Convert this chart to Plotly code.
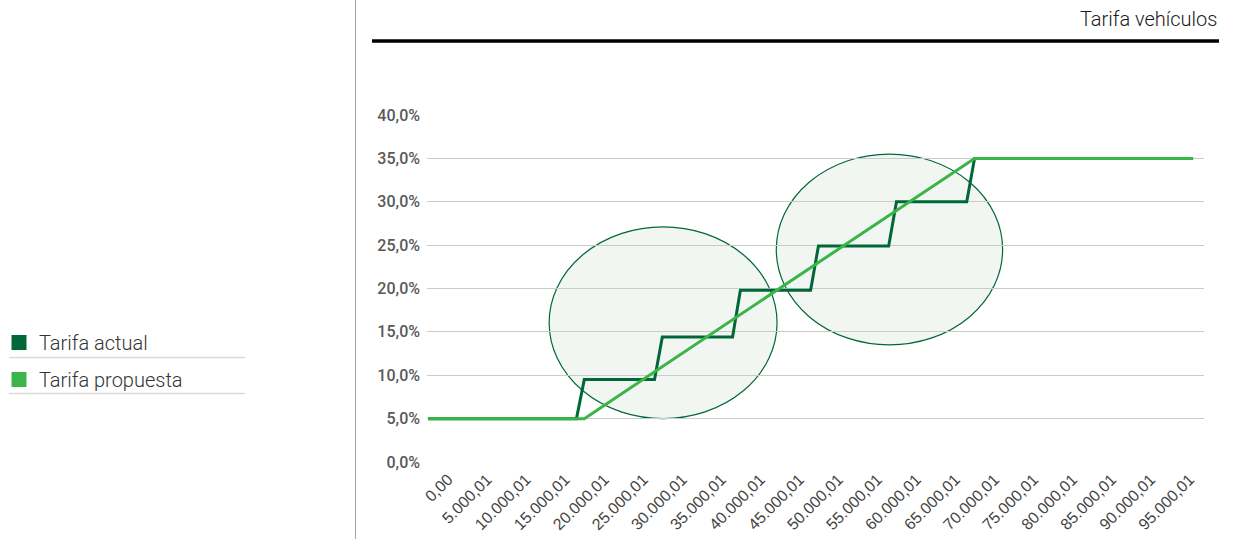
import plotly.graph_objects as go

# ---------------- data ----------------
ingreso_actual = [0, 19000, 20000, 29000, 30000, 39000, 40000, 49000, 50000,
                  59000, 60000, 69000, 70000, 98000]
tarifa_actual = [5.0, 5.0, 9.5, 9.5, 14.4, 14.4, 19.8, 19.8, 24.9, 24.9,
                 30.0, 30.0, 35.0, 35.0]

ingreso_propuesta = [0, 20000, 70000, 98000]
tarifa_propuesta = [5.0, 5.0, 35.0, 35.0]

tick_vals = [0, 5000.01, 10000.01, 15000.01, 20000.01, 25000.01, 30000.01,
             35000.01, 40000.01, 45000.01, 50000.01, 55000.01, 60000.01,
             65000.01, 70000.01, 75000.01, 80000.01, 85000.01, 90000.01,
             95000.01]
tick_text = ["0,00", "5.000,01", "10.000,01", "15.000,01", "20.000,01",
             "25.000,01", "30.000,01", "35.000,01", "40.000,01", "45.000,01",
             "50.000,01", "55.000,01", "60.000,01", "65.000,01", "70.000,01",
             "75.000,01", "80.000,01", "85.000,01", "90.000,01", "95.000,01"]

# highlighted zones (x range, y range)
zona_x = [(15500, 44700), (44600, 73600)]
zona_y = [(5.0, 27.1), (13.5, 35.5)]

# ---------------- layout helpers ----------------
W, H = 1233, 539
L, R, T, B = 427, 29, 115, 77
PW, PH = W - L - R, H - T - B


def px(xp):
    return (xp - L) / PW


def py(yp):
    return (H - B - yp) / PH


DARK = "#006837"
LIGHT = "#3bb54a"
FONT = "Roboto"

fig = go.Figure()

fig.add_trace(go.Scatter(x=ingreso_actual, y=tarifa_actual, mode="lines",
                         line=dict(color=DARK, width=3), showlegend=False,
                         name="Tarifa actual"))
fig.add_trace(go.Scatter(x=ingreso_propuesta, y=tarifa_propuesta, mode="lines",
                         line=dict(color=LIGHT, width=3), showlegend=False,
                         name="Tarifa propuesta"))

# legend entries as squares
fig.add_trace(go.Scatter(x=[None], y=[None], mode="markers", name="Tarifa actual",
                         marker=dict(symbol="square", size=15, color=DARK),
                         legendgroup="a"))
fig.add_trace(go.Scatter(x=[None], y=[None], mode="markers", name="Tarifa propuesta",
                         marker=dict(symbol="square", size=15, color=LIGHT),
                         legendgroup="b"))

shapes = []
for (x0, x1), (y0, y1) in zip(zona_x, zona_y):
    shapes.append(dict(type="circle", xref="x", yref="y", x0=x0, x1=x1, y0=y0, y1=y1,
                       fillcolor="#f2f6f3", line=dict(color=DARK, width=1.2),
                       layer="below"))
# vertical separator
shapes.append(dict(type="line", xref="paper", yref="paper", x0=px(355.5), x1=px(355.5),
                   y0=py(0), y1=py(H), line=dict(color="#a6a6a6", width=1)))
# title rule
shapes.append(dict(type="line", xref="paper", yref="paper", x0=px(372), x1=px(1219),
                   y0=py(41), y1=py(41), line=dict(color="#000000", width=3.5)))
# legend separators
for yy in (357.5, 393.5):
    shapes.append(dict(type="line", xref="paper", yref="paper", x0=px(9), x1=px(245),
                       y0=py(yy), y1=py(yy), line=dict(color="#d9d9d9", width=1.5)))

fig.update_layout(
    width=W, height=H,
    margin=dict(l=L, r=R, t=T, b=B, autoexpand=False),
    paper_bgcolor="white", plot_bgcolor="white",
    separators=",.",
    font=dict(family=FONT, size=15, color="#555555"),
    shapes=shapes,
    showlegend=True,
    legend=dict(x=px(-1), y=py(323), xanchor="left", yanchor="top",
                font=dict(family=FONT, size=20, color="#333333", weight=300),
                tracegroupgap=8, bgcolor="rgba(0,0,0,0)"),
    annotations=[dict(text="Tarifa vehículos", xref="paper", yref="paper",
                      x=px(1219), y=py(19), xanchor="right", yanchor="middle",
                      showarrow=False,
                      font=dict(family=FONT, size=20, color="#1a1a1a", weight=300))],
)

fig.update_xaxes(range=[-150, 99400], tickvals=tick_vals, ticktext=tick_text,
                 tickangle=-45, showgrid=False, zeroline=False, showline=False,
                 ticks="", ticklabelshift=20, ticklabelstandoff=4,
                 tickfont=dict(family="Liberation Sans", size=16, color="#444444"))
fig.update_yaxes(range=[0, 40], dtick=5, tickformat=".1f", ticksuffix="%",
                 showgrid=True, gridcolor="#cacaca", gridwidth=1.3,
                 zeroline=False, showline=False, ticks="",
                 ticklabelstandoff=6,
                 tickfont=dict(family=FONT, size=16, color="#595959", weight=500))

fig.write_html("out.html", post_script="document.body.style.margin='0';",
               config={"displayModeBar": False})
